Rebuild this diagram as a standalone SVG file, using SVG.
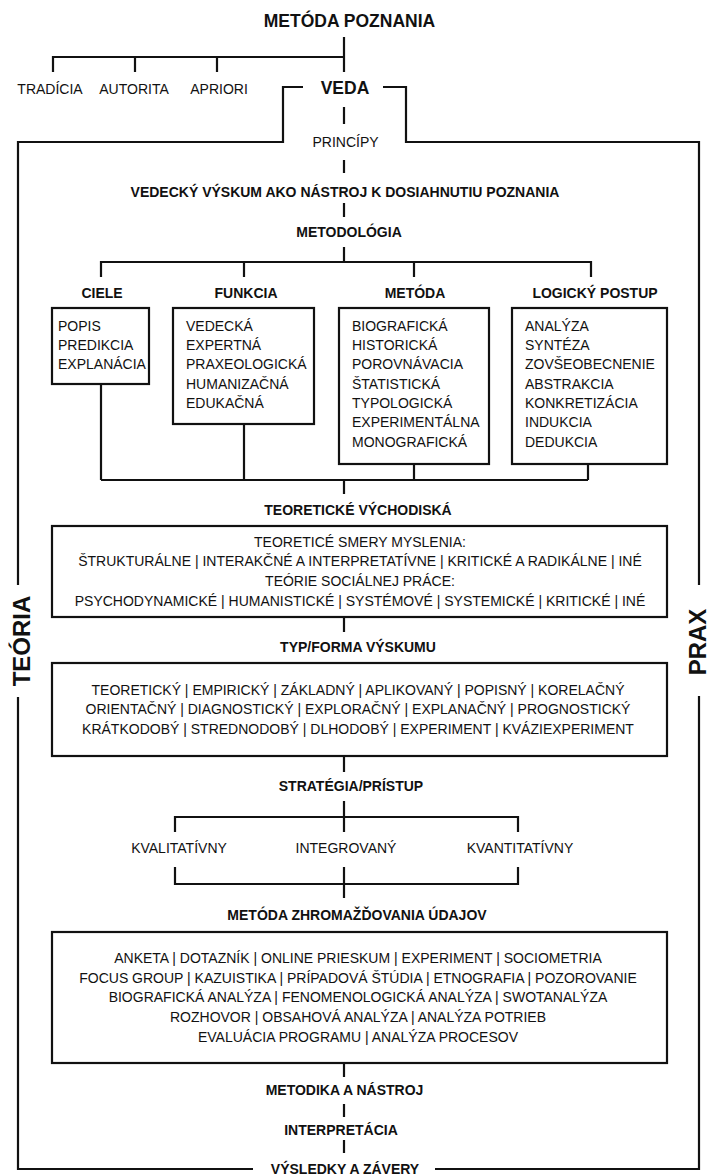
<svg xmlns="http://www.w3.org/2000/svg" width="709" height="1176" viewBox="0 0 709 1176">
<style>
text{font-family:"Liberation Sans",Arial,sans-serif;fill:#111}
.t{font-size:14px;font-weight:bold;text-anchor:middle}
.big{font-size:17.5px;font-weight:bold;text-anchor:middle}
.side{font-size:24px;font-weight:bold;text-anchor:middle}
.r{font-size:14px}
.c{font-size:14px;text-anchor:middle}
.box{fill:#fff;stroke:#111;stroke-width:2.2}
.ln{fill:none;stroke:#111;stroke-width:2.2}
</style>
<rect width="709" height="1176" fill="#fff"/>
<g id="connectors" class="ln">
<path d="M344 37V72M53 72V57H344M135 57V72M217 57V72"/>
<path d="M303 87H283V142H18V585M18 697V1169H253M383 87H406V142H699V585M699 696V1169H435"/>
<path d="M344 107V124M344 160V173M344 203V217M344 247V262M101 277V262H591V277M244 262V277M414 262V277"/>
<path d="M101 384V480M244 424V480M414 464V480M588 464V480M101 480H588M344 480V494"/>
<path d="M344 617V632M344 756V772M344 801V832M175 832V817H518V832M175 867V884H518V867M344 867V898"/>
<path d="M344 1063V1077M344 1104V1117M344 1140V1153"/>
</g>
<g id="metoda-poznania"><text class="big" x="349.5" y="27">METÓDA POZNANIA</text></g>
<g id="tradicia"><text class="c" x="50" y="94">TRADÍCIA</text></g>
<g id="autorita"><text class="c" x="134" y="94">AUTORITA</text></g>
<g id="apriori"><text class="c" x="219" y="94">APRIORI</text></g>
<g id="veda"><text class="big" x="345" y="94">VEDA</text></g>
<g id="principy"><text class="c" x="345.5" y="147">PRINCÍPY</text></g>
<g id="vedecky-vyskum"><text class="t" x="345" y="197">VEDECKÝ VÝSKUM AKO NÁSTROJ K DOSIAHNUTIU POZNANIA</text></g>
<g id="metodologia"><text class="t" x="349" y="237">METODOLÓGIA</text></g>
<g id="ciele">
<text class="t" x="102" y="298">CIELE</text>
<rect class="box" x="52" y="308" width="97" height="76"/>
<text class="r" x="58" y="331">POPIS</text>
<text class="r" x="58" y="350">PREDIKCIA</text>
<text class="r" x="58" y="369">EXPLANÁCIA</text>
</g>
<g id="funkcia">
<text class="t" x="246" y="298">FUNKCIA</text>
<rect class="box" x="173" y="308" width="141" height="116"/>
<text class="r" x="186" y="331">VEDECKÁ</text>
<text class="r" x="186" y="350">EXPERTNÁ</text>
<text class="r" x="186" y="369">PRAXEOLOGICKÁ</text>
<text class="r" x="186" y="389">HUMANIZAČNÁ</text>
<text class="r" x="186" y="408">EDUKAČNÁ</text>
</g>
<g id="metoda">
<text class="t" x="415" y="298">METÓDA</text>
<rect class="box" x="339" y="308" width="150" height="156"/>
<text class="r" x="352" y="331">BIOGRAFICKÁ</text>
<text class="r" x="352" y="350">HISTORICKÁ</text>
<text class="r" x="352" y="369">POROVNÁVACIA</text>
<text class="r" x="352" y="389">ŠTATISTICKÁ</text>
<text class="r" x="352" y="408">TYPOLOGICKÁ</text>
<text class="r" x="352" y="427">EXPERIMENTÁLNA</text>
<text class="r" x="352" y="447">MONOGRAFICKÁ</text>
</g>
<g id="logicky-postup">
<text class="t" x="595" y="298">LOGICKÝ POSTUP</text>
<rect class="box" x="512" y="308" width="155" height="156"/>
<text class="r" x="525" y="331">ANALÝZA</text>
<text class="r" x="525" y="350">SYNTÉZA</text>
<text class="r" x="525" y="369">ZOVŠEOBECNENIE</text>
<text class="r" x="525" y="389">ABSTRAKCIA</text>
<text class="r" x="525" y="408">KONKRETIZÁCIA</text>
<text class="r" x="525" y="427">INDUKCIA</text>
<text class="r" x="525" y="447">DEDUKCIA</text>
</g>
<g id="teoreticke-vychodiska">
<text class="t" x="358" y="515">TEORETICKÉ VÝCHODISKÁ</text>
<rect class="box" x="52" y="526" width="615" height="91"/>
<text class="c" x="360" y="547">TEORETICÉ SMERY MYSLENIA:</text>
<text class="c" x="360" y="566">ŠTRUKTURÁLNE | INTERAKČNÉ A INTERPRETATÍVNE | KRITICKÉ A RADIKÁLNE | INÉ</text>
<text class="c" x="360" y="586">TEÓRIE SOCIÁLNEJ PRÁCE:</text>
<text class="c" x="360" y="606">PSYCHODYNAMICKÉ | HUMANISTICKÉ | SYSTÉMOVÉ | SYSTEMICKÉ | KRITICKÉ | INÉ</text>
</g>
<g id="typ-forma">
<text class="t" x="358" y="652">TYP/FORMA VÝSKUMU</text>
<rect class="box" x="52" y="663" width="615" height="93"/>
<text class="c" x="358" y="695">TEORETICKÝ | EMPIRICKÝ | ZÁKLADNÝ | APLIKOVANÝ | POPISNÝ | KORELAČNÝ</text>
<text class="c" x="358" y="714">ORIENTAČNÝ | DIAGNOSTICKÝ | EXPLORAČNÝ | EXPLANAČNÝ | PROGNOSTICKÝ</text>
<text class="c" x="358" y="734">KRÁTKODOBÝ | STREDNODOBÝ | DLHODOBÝ | EXPERIMENT | KVÁZIEXPERIMENT</text>
</g>
<g id="strategia">
<text class="t" x="351" y="791">STRATÉGIA/PRÍSTUP</text>
</g>
<g id="kvalitativny"><text class="c" x="179" y="853">KVALITATÍVNY</text></g>
<g id="integrovany"><text class="c" x="346" y="853">INTEGROVANÝ</text></g>
<g id="kvantitativny"><text class="c" x="520" y="853">KVANTITATÍVNY</text></g>
<g id="metoda-zhromazdovania">
<text class="t" x="357" y="920">METÓDA ZHROMAŽĎOVANIA ÚDAJOV</text>
<rect class="box" x="52" y="932" width="615" height="131"/>
<text class="c" x="358" y="963">ANKETA | DOTAZNÍK | ONLINE PRIESKUM | EXPERIMENT | SOCIOMETRIA</text>
<text class="c" x="358" y="983">FOCUS GROUP | KAZUISTIKA | PRÍPADOVÁ ŠTÚDIA | ETNOGRAFIA | POZOROVANIE</text>
<text class="c" x="358" y="1002">BIOGRAFICKÁ ANALÝZA | FENOMENOLOGICKÁ ANALÝZA | SWOTANALÝZA</text>
<text class="c" x="358" y="1022">ROZHOVOR | OBSAHOVÁ ANALÝZA | ANALÝZA POTRIEB</text>
<text class="c" x="358" y="1042">EVALUÁCIA PROGRAMU | ANALÝZA PROCESOV</text>
</g>
<g id="metodika"><text class="t" x="344.5" y="1095">METODIKA A NÁSTROJ</text></g>
<g id="interpretacia"><text class="t" x="341" y="1135">INTERPRETÁCIA</text></g>
<g id="vysledky"><text class="t" x="345" y="1174">VÝSLEDKY A ZÁVERY</text></g>
<g id="teoria"><text class="side" transform="translate(30,641) rotate(-90)">TEÓRIA</text></g>
<g id="prax"><text class="side" transform="translate(706,642) rotate(-90)">PRAX</text></g>
</svg>
